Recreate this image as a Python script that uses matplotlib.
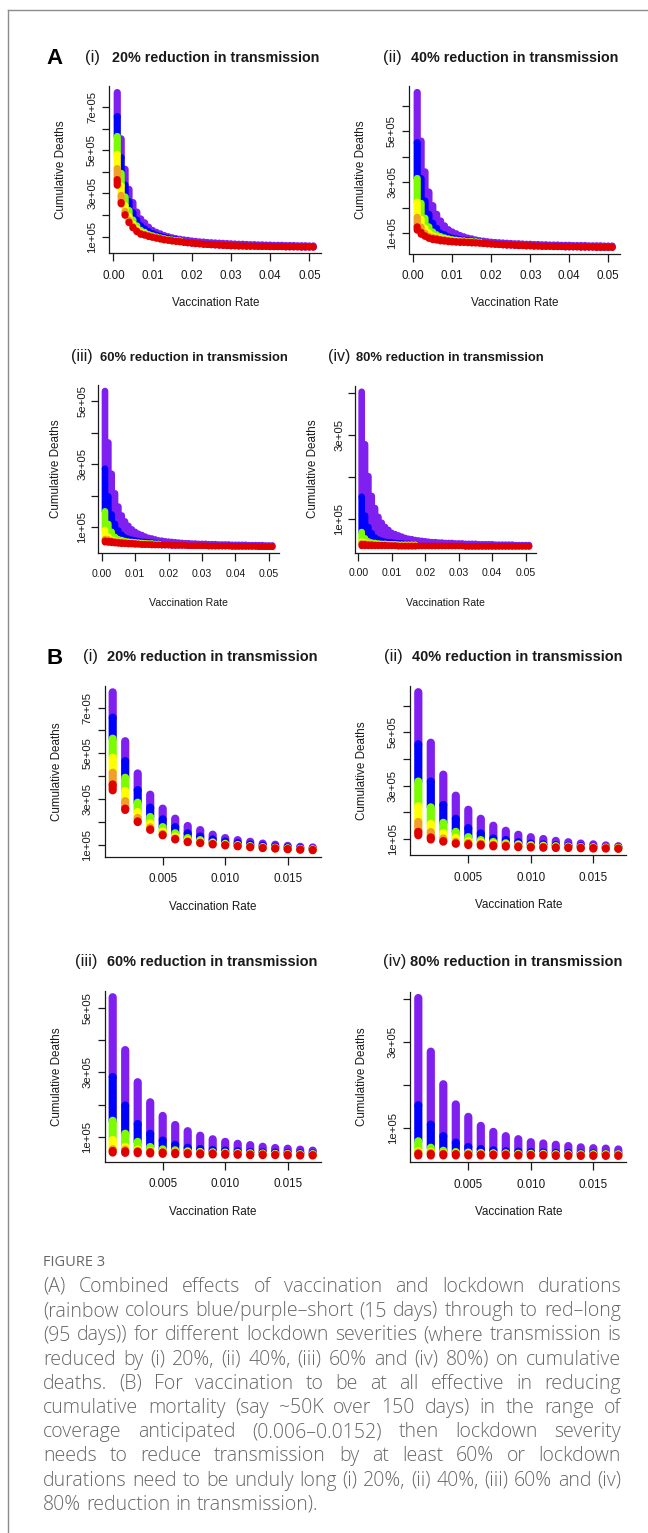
import matplotlib
matplotlib.use("Agg")
import matplotlib.pyplot as plt
from matplotlib.lines import Line2D
import numpy as np

W, H = 648, 1533

# vaccination rates shown in the B panels (and first part of A panels)
rates_b = [0.001, 0.002, 0.003, 0.004, 0.005, 0.006, 0.007, 0.008, 0.009,
           0.010, 0.011, 0.012, 0.013, 0.014, 0.015, 0.016, 0.017]
# extra rates only in the A panels
rates_tail = [0.018, 0.019, 0.020, 0.021, 0.022, 0.023, 0.024, 0.025, 0.026,
              0.027, 0.028, 0.029, 0.030, 0.031, 0.032, 0.033, 0.034, 0.035,
              0.036, 0.037, 0.038, 0.039, 0.040, 0.041, 0.042, 0.043, 0.044,
              0.045, 0.046, 0.047, 0.048, 0.049, 0.050, 0.051]

# cumulative deaths (thousands), top of each colour band per rate
# purple (15 d), blue, green, yellow, orange, red (95 d), then red bottom
# (i) 20% reduction
p20 = [767, 553, 412, 319, 258, 214, 182, 164, 144, 129, 120, 113, 105, 100, 95, 91, 88]
b20 = [656, 466, 339, 262, 211, 177, 150, 136, 123, 114, 107, 101, 96, 92, 88, 85, 82]
g20 = [564, 393, 284, 221, 177, 150, 129, 120, 110, 104, 99, 94, 90, 87, 84, 82, 80]
y20 = [481, 335, 243, 193, 158, 136, 120, 113, 106, 101, 96, 92, 88, 86, 83, 81, 79]
o20 = [415, 291, 217, 176, 148, 128, 115, 110, 104, 99, 95, 91, 87, 85, 82, 80, 78]
r20 = [364, 258, 202, 167, 143, 125, 113, 108, 103, 98, 94, 90, 86, 84, 81, 79, 77]
bot20 = [338, 252, 199, 165, 141, 123, 111, 107, 101, 97, 93, 89, 85, 83, 80, 78, 76]
top20_tail = [85, 83, 80, 78, 76, 75, 73, 72, 71, 70, 69, 68, 67, 66, 65, 65, 64,
              63, 63, 62, 62, 61, 61, 60, 60, 60, 59, 59, 59, 58, 58, 58, 57, 57]
bot20_tail = [74, 72, 70, 68, 67, 65, 64, 63, 62, 61, 60, 59, 58, 58, 57, 57, 56,
              56, 56, 55, 55, 55, 54, 54, 54, 54, 53, 53, 53, 53, 52, 52, 52, 52]

# (ii) 40% reduction
p40 = [651, 461, 341, 262, 209, 175, 149, 130, 115, 106, 99, 92, 87, 82, 79, 75, 72]
b40 = [455, 315, 227, 175, 140, 120, 101, 95, 87, 82, 79, 76, 74, 72, 70, 68, 67]
g40 = [315, 218, 160, 126, 106, 95, 88, 83, 79, 76, 74, 72, 71, 69, 68, 67, 66]
y40 = [222, 156, 121, 103, 91, 87, 82, 79, 76, 73, 72, 70, 69, 68, 67, 66, 65]
o40 = [163, 125, 101, 89, 85, 82, 78, 76, 73, 71, 70, 69, 68, 67, 66, 65, 64]
r40 = [126, 105, 91, 83, 80, 78, 75, 73, 71, 69, 68, 67, 67, 66, 65, 64, 63]
bot40 = [113, 97, 89, 81, 76, 74, 71, 70, 68, 67, 66, 65, 65, 64, 63, 63, 62]
top40_tail = [70, 68, 66, 65, 64, 63, 62, 61, 60, 60, 59, 58, 58, 57, 57, 56, 56,
              55, 55, 55, 54, 54, 54, 53, 53, 53, 53, 52, 52, 52, 52, 51, 51, 51]
bot40_tail = [61, 60, 59, 58, 57, 56, 55, 55, 54, 53, 53, 52, 52, 51, 51, 50, 50,
              50, 49, 49, 49, 48, 48, 48, 48, 47, 47, 47, 47, 46, 46, 46, 46, 46]

# (iii) 60% reduction
p60 = [532, 369, 270, 208, 166, 138, 119, 105, 94, 86, 80, 76, 71, 67, 65, 62, 59]
b60 = [286, 198, 141, 111, 90, 77, 68, 64, 61, 59, 57, 55, 54, 53, 52, 51, 50]
g60 = [151, 111, 86, 70, 63, 60, 57, 55, 54, 53, 52, 51, 50, 49, 49, 48, 48]
y60 = [92, 71, 62, 58, 56, 55, 54, 53, 52, 51, 50, 49, 49, 48, 48, 47, 47]
o60 = [63, 62, 58, 56, 55, 54, 53, 52, 51, 50, 49, 48, 48, 47, 47, 46, 46]
r60 = [58, 57, 56, 54, 53, 52, 51, 50, 50, 49, 48, 47, 47, 46, 46, 45, 45]
bot60 = [53, 52, 51, 50, 49, 48, 48, 47, 47, 46, 46, 45, 45, 45, 44, 44, 44]
top60_tail = [58, 56, 55, 54, 53, 52, 51, 50, 50, 49, 49, 48, 48, 48, 47, 47, 47,
              46, 46, 46, 46, 45, 45, 45, 45, 45, 44, 44, 44, 44, 44, 43, 43, 43]
bot60_tail = [44, 44, 44, 43, 43, 43, 43, 43, 42, 42, 42, 42, 42, 42, 41, 41, 41,
              41, 41, 41, 41, 40, 40, 40, 40, 40, 40, 40, 40, 39, 39, 39, 39, 39]

# (iv) 80% reduction
p80 = [403, 278, 202, 155, 126, 105, 91, 81, 74, 67, 64, 61, 58, 55, 53, 52, 50]
b80 = [153, 108, 81, 66, 56, 51, 48, 46, 45, 44, 43, 42, 42, 41, 41, 40, 40]
g80 = [69, 54, 47, 44, 43, 42, 41, 41, 40, 40, 40, 39, 39, 39, 39, 39, 39]
y80 = [46, 44, 42, 41, 41, 40, 40, 40, 39, 39, 39, 38, 38, 38, 38, 38, 38]
o80 = [43, 42, 41, 40, 40, 39, 39, 39, 38, 38, 38, 37, 37, 37, 37, 37, 37]
r80 = [40, 40, 39, 39, 38, 38, 38, 38, 37, 37, 37, 36, 36, 36, 36, 36, 36]
bot80 = [36, 36, 36, 36, 36, 36, 36, 36, 36, 36, 36, 35, 35, 35, 35, 35, 35]
top80_tail = [49, 48, 47, 46, 45, 45, 44, 44, 43, 43, 43, 42, 42, 42, 41, 41, 41,
              41, 40, 40, 40, 40, 40, 39, 39, 39, 39, 39, 39, 38, 38, 38, 38, 38]
bot80_tail = [36, 36, 36, 36, 36, 36, 36, 36, 36, 36, 36, 36, 36, 36, 35, 35, 35,
              35, 35, 35, 35, 35, 35, 35, 35, 35, 35, 35, 35, 35, 35, 35, 35, 35]

numerals = ["(i)", "(ii)", "(iii)", "(iv)"]
titles = ["20% reduction in transmission", "40% reduction in transmission",
          "60% reduction in transmission", "80% reduction in transmission"]
bands = [[p20, b20, g20, y20, o20, r20, bot20],
         [p40, b40, g40, y40, o40, r40, bot40],
         [p60, b60, g60, y60, o60, r60, bot60],
         [p80, b80, g80, y80, o80, r80, bot80]]
tails = [(top20_tail, bot20_tail), (top40_tail, bot40_tail),
         (top60_tail, bot60_tail), (top80_tail, bot80_tail)]

band_colors = ["#8020f0", "#0000ff", "#7cfc00", "#ffff00", "#f0a028", "#e00000"]

caption_head = "FIGURE 3"
caption_lines = [
    "(A) Combined effects of vaccination and lockdown durations",
    "(rainbow colours blue/purple\u2013short (15 days) through to red\u2013long",
    "(95 days)) for different lockdown severities (where transmission is",
    "reduced by (i) 20%, (ii) 40%, (iii) 60% and (iv) 80%) on cumulative",
    "deaths. (B) For vaccination to be at all effective in reducing",
    "cumulative mortality (say ~50K over 150 days) in the range of",
    "coverage anticipated (0.006\u20130.0152) then lockdown severity",
    "needs to reduce transmission by at least 60% or lockdown",
    "durations need to be unduly long (i) 20%, (ii) 40%, (iii) 60% and (iv)",
    "80% reduction in transmission).",
]

# ---- layout (pixels) ----
# axes box: left, right, top, bottom
boxes_a = [(109.4, 321.1, 86.4, 253.2), (409.4, 620.0, 86.3, 253.5),
           (98.3, 279.0, 384.8, 552.9), (355.0, 535.7, 385.6, 552.5)]
boxes_b = [(104.7, 320.7, 686.0, 856.5), (410.3, 626.3, 685.9, 855.1),
           (104.7, 320.7, 990.9, 1161.8), (410.3, 626.3, 991.7, 1162.2)]
# numeral x0, title x0, title x1, baseline
heads_a = [(85, 111.7, 318, 61.7), (382.7, 410.7, 617.3, 61.7),
           (70.7, 100, 276.7, 360.7), (328.3, 356, 533.3, 360.7)]
heads_b = [(83.3, 107.3, 317.3, 660.7), (384, 412, 623, 660.7),
           (75, 107.3, 317.3, 965.7), (382.7, 410, 623.3, 966)]

fig = plt.figure(figsize=(W / 100, H / 100), dpi=100)
fig.patch.set_facecolor("white")
renderer = fig.canvas.get_renderer()
FONT = "Liberation Sans"
INK = "#1a1a1a"


def fx(x):
    return x / W


def fy(y):
    return 1 - y / H


def fit_text(x0, x1, y, s, stretch=1.0, **kw):
    t = fig.text(fx(x0), fy(y), s, fontsize=10, ha="left", va="baseline",
                 family=FONT, color=INK, **kw)
    w = t.get_window_extent(renderer).width
    t.set_fontsize(10 * stretch * (x1 - x0) / w)
    return t


def draw_panel(box, k, lw, tail, narrow):
    l, r, t, b = box
    ax = fig.add_axes([fx(l), fy(b), (r - l) / W, (b - t) / H])
    cols = bands[k]
    x = list(rates_b)
    tops = [list(c) for c in cols]
    if tail:
        tt, tb = tails[k]
        x = x + rates_tail
        tops[0] = tops[0] + tt
        tops[1] = tops[1] + tb
    for i, c in enumerate(band_colors):
        n = len(x) if i == 0 else len(rates_b)
        hi = np.array(tops[i][:n]) * 1000.0
        lo = np.array(tops[i + 1][:n]) * 1000.0
        ax.vlines(x[:n], lo, hi, colors=c, linewidth=lw, capstyle="round",
                  snap=False, zorder=2 + i * 0.01)
    if tail:
        ax.scatter(rates_tail, np.array(tails[k][1]) * 1000.0, s=lw ** 2,
                   color=band_colors[-1], edgecolors="none", zorder=3)
    ax.margins(0.04)
    ax.autoscale_view()
    ylo, yhi = ax.get_ylim()
    xlo, xhi = ax.get_xlim()

    for s in ["top", "right"]:
        ax.spines[s].set_visible(False)
    for s in ["left", "bottom"]:
        ax.spines[s].set_linewidth(0.9)
        ax.spines[s].set_color(INK)

    yt = [v * 1e5 for v in range(1, 9) if ylo <= v * 1e5 <= yhi]
    ax.set_yticks(yt)
    ax.set_yticklabels(["%de+05" % round(v / 1e5) if round(v / 1e5) % 2 == 1 else ""
                        for v in yt])
    if tail:
        xt = [0.00, 0.01, 0.02, 0.03, 0.04, 0.05]
        ax.set_xticks(xt)
        ax.set_xticklabels(["%.2f" % v for v in xt])
    else:
        xt = [0.005, 0.010, 0.015]
        ax.set_xticks(xt)
        ax.set_xticklabels(["%.3f" % v for v in xt])
    ax.set_xlim(xlo, xhi)
    ax.set_ylim(ylo, yhi)

    xsize = 7.6 if narrow else 8.4
    ax.tick_params(axis="both", direction="out", length=5.4, width=0.9, color=INK)
    ax.tick_params(axis="x", labelsize=xsize, pad=6.5 if not narrow else 6.0,
                   labelcolor=INK)
    ax.tick_params(axis="y", labelsize=8.2, pad=3.5 if not narrow else 2.5,
                   labelrotation=90, labelcolor=INK)
    for lab in ax.get_yticklabels():
        lab.set_verticalalignment("center")
        lab.set_family(FONT)
    for lab in ax.get_xticklabels():
        lab.set_family(FONT)
    ax.set_facecolor("none")

    yoff = 42.3 if narrow else 48.0
    fig.text(fx(l - yoff), fy((t + b) / 2), "Cumulative Deaths", rotation=90,
             ha="center", va="center", fontsize=8.4, family=FONT, color=INK)
    fig.text(fx((l + r) / 2), fy(b + 50), "Vaccination Rate", ha="center",
             va="center", fontsize=xsize, family=FONT, color=INK)


for k in range(4):
    draw_panel(boxes_a[k], k, 4.8 if k >= 2 else 5.2, True, k >= 2)
    draw_panel(boxes_b[k], k, 5.9, False, False)

for heads, narrow_row in ((heads_a, True), (heads_b, False)):
    for k in range(4):
        n0, t0, t1, base = heads[k]
        small = narrow_row and k >= 2
        fig.text(fx(n0), fy(base), numerals[k], fontsize=11.5 if small else 12,
                 family=FONT, color=INK, ha="left", va="baseline")
        fit_text(t0, t1, base, titles[k], stretch=1.07 if small else 1.0,
                 weight="bold")

fig.text(fx(46.5), fy(64.5), "A", fontsize=16, weight="bold", family=FONT,
         color="black", ha="left", va="baseline")
fig.text(fx(46.5), fy(663.5), "B", fontsize=16, weight="bold", family=FONT,
         color="black", ha="left", va="baseline")

# frame around the figure block
fig.add_artist(Line2D([fx(8), fx(W)], [fy(10), fy(10)], color="#8c8c8c", lw=1.0))
fig.add_artist(Line2D([fx(8), fx(8)], [fy(10), fy(H)], color="#8c8c8c", lw=1.0))

# caption
CAP = "Open Sans"
CAP_COLOR = "#666666"
CAP_WEIGHT = "light"
fig.text(fx(43), fy(1262), caption_head, fontsize=10.5, family=CAP, color=CAP_COLOR,
         ha="left", va="center")
x0, x1 = 43.0, 621.0
# size so the fullest line sits at its natural spacing
probe = [fig.text(0, 0, ln, fontsize=10, family=CAP, weight=CAP_WEIGHT)
         for ln in caption_lines[:-1]]
widest = max(p.get_window_extent(renderer).width for p in probe)
for p in probe:
    p.remove()
cap_size = 10 * 0.99 * (x1 - x0) / widest

for i, line in enumerate(caption_lines):
    y = 1287 + i * 24.2
    words = line.split(" ")
    texts = [fig.text(0, fy(y), w, fontsize=cap_size, family=CAP, color=CAP_COLOR,
                      weight=CAP_WEIGHT, ha="left", va="center") for w in words]
    widths = [tx.get_window_extent(renderer).width for tx in texts]
    if i == len(caption_lines) - 1:
        sp = fig.text(0, 0, "a a", fontsize=cap_size, family=CAP, weight=CAP_WEIGHT)
        sp2 = fig.text(0, 0, "aa", fontsize=cap_size, family=CAP, weight=CAP_WEIGHT)
        gap = sp.get_window_extent(renderer).width - sp2.get_window_extent(renderer).width
        sp.remove()
        sp2.remove()
    else:
        gap = (x1 - x0 - sum(widths)) / (len(words) - 1)
    xx = x0
    for tx, w in zip(texts, widths):
        tx.set_x(fx(xx))
        xx += w + gap

fig.savefig("out.png", dpi=100, facecolor="white")
